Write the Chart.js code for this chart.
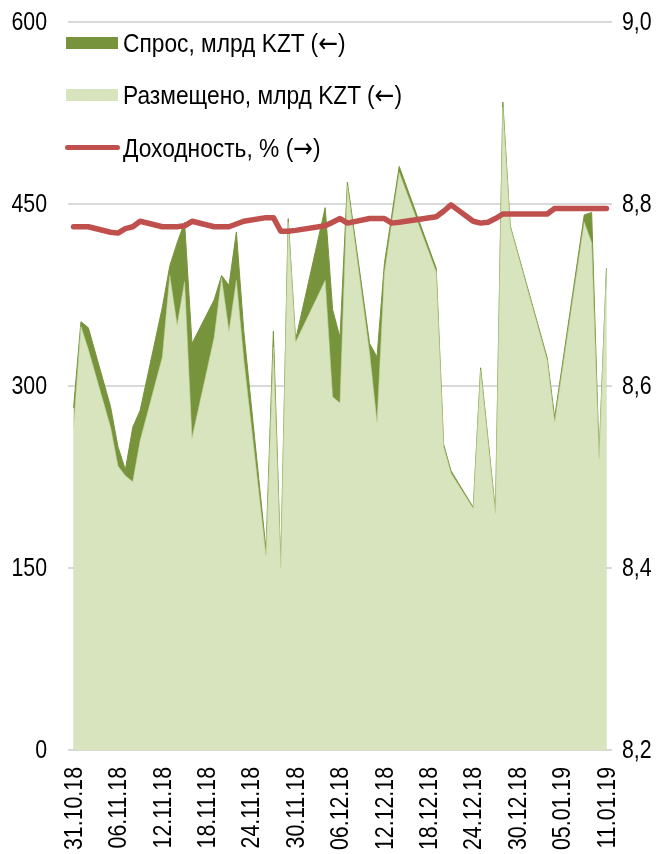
<!DOCTYPE html>
<html>
<head>
<meta charset="utf-8">
<script src="https://cdn.jsdelivr.net/npm/chart.js@4/dist/chart.umd.min.js"></script>
<style>
  body { margin: 0; background: #fff; }
  #wrap { position: relative; width: 669px; height: 854px; }
  .lg { position: absolute; font: 26px 'Liberation Sans', Arial, sans-serif; color: #000; line-height: 30px;
        white-space: nowrap; transform: scaleX(0.875); transform-origin: 0 0; }
  .lg span { font-family: 'DejaVu Sans', sans-serif; font-size: 27px; }
  .sw { position: absolute; }
</style>
</head>
<body>
<div id="wrap">
  <canvas id="chart" width="669" height="854"></canvas>
  <div class="sw" style="left:66px;top:37px;width:52px;height:12px;background:#77933c"></div>
  <div class="lg" style="left:123px;top:28px">Спрос, млрд KZT (<span>←</span>)</div>
  <div class="sw" style="left:66px;top:89px;width:52px;height:12px;background:#d7e4bd"></div>
  <div class="lg" style="left:123px;top:80px">Размещено, млрд KZT (<span>←</span>)</div>
  <div class="sw" style="left:65px;top:145px;width:55px;height:5px;border-radius:3px;background:#c0504d"></div>
  <div class="lg" style="left:123px;top:133px">Доходность, % (<span>→</span>)</div>
</div>
<script>
// подписи оси X
const tickDates = ['31.10.18', '06.11.18', '12.11.18', '18.11.18', '24.11.18', '30.11.18', '06.12.18',
  '12.12.18', '18.12.18', '24.12.18', '30.12.18', '05.01.19', '11.01.19'];

// даты аукционов
const dates = ['31.10.18', '01.11.18', '02.11.18', '05.11.18', '06.11.18', '07.11.18', '08.11.18', '09.11.18',
  '12.11.18', '13.11.18', '14.11.18', '15.11.18', '16.11.18', '19.11.18', '20.11.18', '21.11.18', '22.11.18',
  '23.11.18', '26.11.18', '27.11.18', '28.11.18', '29.11.18', '30.11.18', '04.12.18', '05.12.18', '06.12.18',
  '07.12.18', '10.12.18', '11.12.18', '12.12.18', '13.12.18', '14.12.18', '19.12.18', '20.12.18', '21.12.18',
  '24.12.18', '25.12.18', '26.12.18', '27.12.18', '28.12.18', '29.12.18', '03.01.19', '04.01.19', '08.01.19',
  '09.01.19', '10.01.19', '11.01.19'];

// спрос, млрд KZT
const demand = [282, 353, 348, 283, 250, 231, 266, 280,
  365, 399, 418, 435, 335, 371, 391, 383, 427,
  345, 165, 345, 152, 438, 338, 447, 363, 340,
  468, 335, 324, 401, 441, 481, 397, 252, 230,
  200, 315, 256, 197, 534, 432, 323, 274, 441,
  443, 242, 397];

// размещено, млрд KZT
const placed = [266, 349, 330, 266, 234, 226, 221, 255,
  324, 391, 350, 386, 257, 340, 389, 345, 387,
  322, 160, 332, 150, 435, 336, 387, 291, 286,
  465, 327, 270, 393, 435, 476, 394, 250, 228,
  199, 313, 254, 195, 530, 431, 321, 270, 435,
  418, 240, 396];

// доходность, %
const yieldPct = [8.775, 8.775, 8.775, 8.769, 8.768, 8.773, 8.775, 8.781,
  8.775, 8.775, 8.775, 8.776, 8.781, 8.775, 8.775, 8.775, 8.778,
  8.781, 8.785, 8.785, 8.770, 8.770, 8.771, 8.776, 8.780, 8.784,
  8.779, 8.784, 8.784, 8.784, 8.779, 8.780, 8.786, 8.792, 8.799,
  8.781, 8.779, 8.780, 8.784, 8.789, 8.789, 8.789, 8.795, 8.795,
  8.795, 8.795, 8.795];

function toDate(s) {
  const p = s.split('.');
  return Date.UTC(2000 + Number(p[2]), Number(p[1]) - 1, Number(p[0]));
}
const start = toDate(tickDates[0]);
function dayIndex(s) { return Math.round((toDate(s) - start) / 86400000); }

const pts = arr => arr.map((v, i) => ({ x: dayIndex(dates[i]), y: v }));
const tickPos = tickDates.map(dayIndex);

// узкий шрифт: Liberation Sans, сжатый по горизонтали
const FONT = "26px 'Liberation Sans', Arial, sans-serif";
const SQUEEZE = 0.82;

const axisLabels = {
  id: 'axisLabels',
  afterDraw(chart) {
    const ctx = chart.ctx;
    const { x, y, y2 } = chart.scales;
    ctx.save();
    ctx.font = FONT;
    ctx.fillStyle = '#000';
    ctx.textBaseline = 'middle';

    y.ticks.forEach(t => {
      ctx.save();
      ctx.translate(47, y.getPixelForValue(t.value));
      ctx.scale(SQUEEZE, 1);
      ctx.textAlign = 'right';
      ctx.fillText(String(t.value), 0, 1);
      ctx.restore();
    });

    y2.ticks.forEach(t => {
      ctx.save();
      ctx.translate(622, y2.getPixelForValue(t.value));
      ctx.scale(SQUEEZE, 1);
      ctx.textAlign = 'left';
      ctx.fillText(t.value.toFixed(1).replace('.', ','), 0, 1);
      ctx.restore();
    });

    tickPos.forEach((v, i) => {
      ctx.save();
      ctx.translate(x.getPixelForValue(v) + 1, 767);
      ctx.rotate(-Math.PI / 2);
      ctx.scale(SQUEEZE, 1);
      ctx.textAlign = 'right';
      ctx.fillText(tickDates[i], 0, 0);
      ctx.restore();
    });
    ctx.restore();
  }
};

new Chart(document.getElementById('chart'), {
  type: 'line',
  data: {
    datasets: [
      {
        label: 'Доходность, % (→)',
        data: pts(yieldPct),
        yAxisID: 'y2',
        borderColor: '#c0504d',
        borderWidth: 5.5,
        borderCapStyle: 'round',
        borderJoinStyle: 'round',
        pointRadius: 0,
        fill: false,
        order: 0
      },
      {
        label: 'Размещено, млрд KZT (←)',
        data: pts(placed),
        yAxisID: 'y',
        borderColor: '#c3d69b',
        borderWidth: 0.6,
        backgroundColor: '#d7e4bd',
        pointRadius: 0,
        fill: 'origin',
        order: 1
      },
      {
        label: 'Спрос, млрд KZT (←)',
        data: pts(demand),
        yAxisID: 'y',
        borderColor: '#77933c',
        borderWidth: 1,
        backgroundColor: '#77933c',
        pointRadius: 0,
        fill: 'origin',
        order: 2
      }
    ]
  },
  plugins: [axisLabels],
  options: {
    responsive: false,
    animation: false,
    layout: { padding: { top: 22, left: 0, right: 0, bottom: 0 } },
    plugins: { legend: { display: false }, tooltip: { enabled: false } },
    scales: {
      x: {
        type: 'linear',
        min: -0.75,
        max: 72.75,
        afterBuildTicks: s => { s.ticks = tickPos.map(v => ({ value: v })); },
        afterFit: s => { s.height = 104; },
        grid: { display: false },
        border: { display: false },
        ticks: { display: false }
      },
      y: {
        position: 'left',
        min: 0,
        max: 600,
        afterFit: s => { s.width = 68; },
        grid: { color: '#d9d9d9', lineWidth: 2, drawTicks: false },
        border: { display: false },
        ticks: { display: false, stepSize: 150 }
      },
      y2: {
        position: 'right',
        min: 8.2,
        max: 9.0,
        afterFit: s => { s.width = 57; },
        grid: { display: false, drawTicks: false },
        border: { display: false },
        ticks: { display: false, stepSize: 0.2 }
      }
    }
  }
});
</script>
</body>
</html>
